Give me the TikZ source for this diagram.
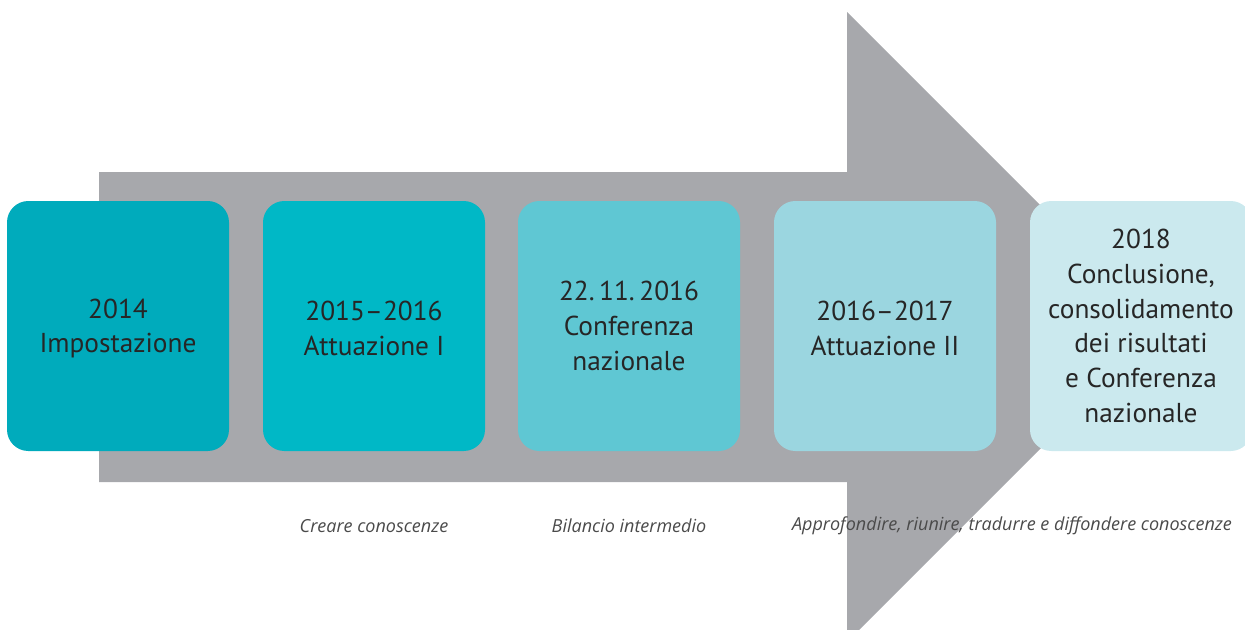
\documentclass[tikz,border=0pt]{standalone}
\usepackage{fontspec}
\setmainfont{PT Sans}
\newfontfamily\notefont{Open Sans}
\definecolor{arrowgray}{HTML}{A7A8AC}
\definecolor{tealA}{HTML}{00ABBC}
\definecolor{tealB}{HTML}{00B8C6}
\definecolor{tealC}{HTML}{5FC7D3}
\definecolor{tealD}{HTML}{9BD6E0}
\definecolor{tealE}{HTML}{CBE9EE}
\definecolor{inkgray}{HTML}{262626}
\definecolor{notegray}{HTML}{4A4A4A}
\begin{document}
\begin{tikzpicture}[x=0.75pt, y=-0.75pt,
    phase/.style={rectangle, rounded corners=16pt, minimum width=166.5pt,
      minimum height=187.5pt, align=center, text=inkgray,
      font=\fontsize{20.5}{26}\selectfont},
    note/.style={text=notegray, font=\notefont\itshape\fontsize{13.5}{16}\selectfont}]
  \useasboundingbox (0,0) rectangle (1245,629);
  \begin{scope}
    \clip (0,0) rectangle (1245,629);
    % big grey arrow behind the phases
    \fill[arrowgray] (99,172) -- (847,172) -- (847,12) -- (1162,327)
      -- (847,642) -- (847,482) -- (99,482) -- cycle;

    \node[phase, fill=tealA] (p1) at (118,326) {\strut 2014\\Impostazione};
    \node[phase, fill=tealB] (p2) at (374,326) {\strut 2015--2016\\Attuazione I};
    \node[phase, fill=tealC] (p3) at (629,326) {22.\,11.\,2016\\Conferenza\\nazionale};
    \node[phase, fill=tealD] (p4) at (885,326) {\strut 2016--2017\\Attuazione II};
    \node[phase, fill=tealE] (p5) at (1141,326) {2018\\Conclusione,\\consolidamento\\dei risultati\\e Conferenza\\nazionale};
  \end{scope}

  \node[note] (n1) at (374,526) {Creare conoscenze};
  \node[note] (n2) at (629,526) {Bilancio intermedio};
  \node[note] (n3) at (1012,526) {Approfondire, riunire, tradurre e diffondere conoscenze};
\end{tikzpicture}
\end{document}
